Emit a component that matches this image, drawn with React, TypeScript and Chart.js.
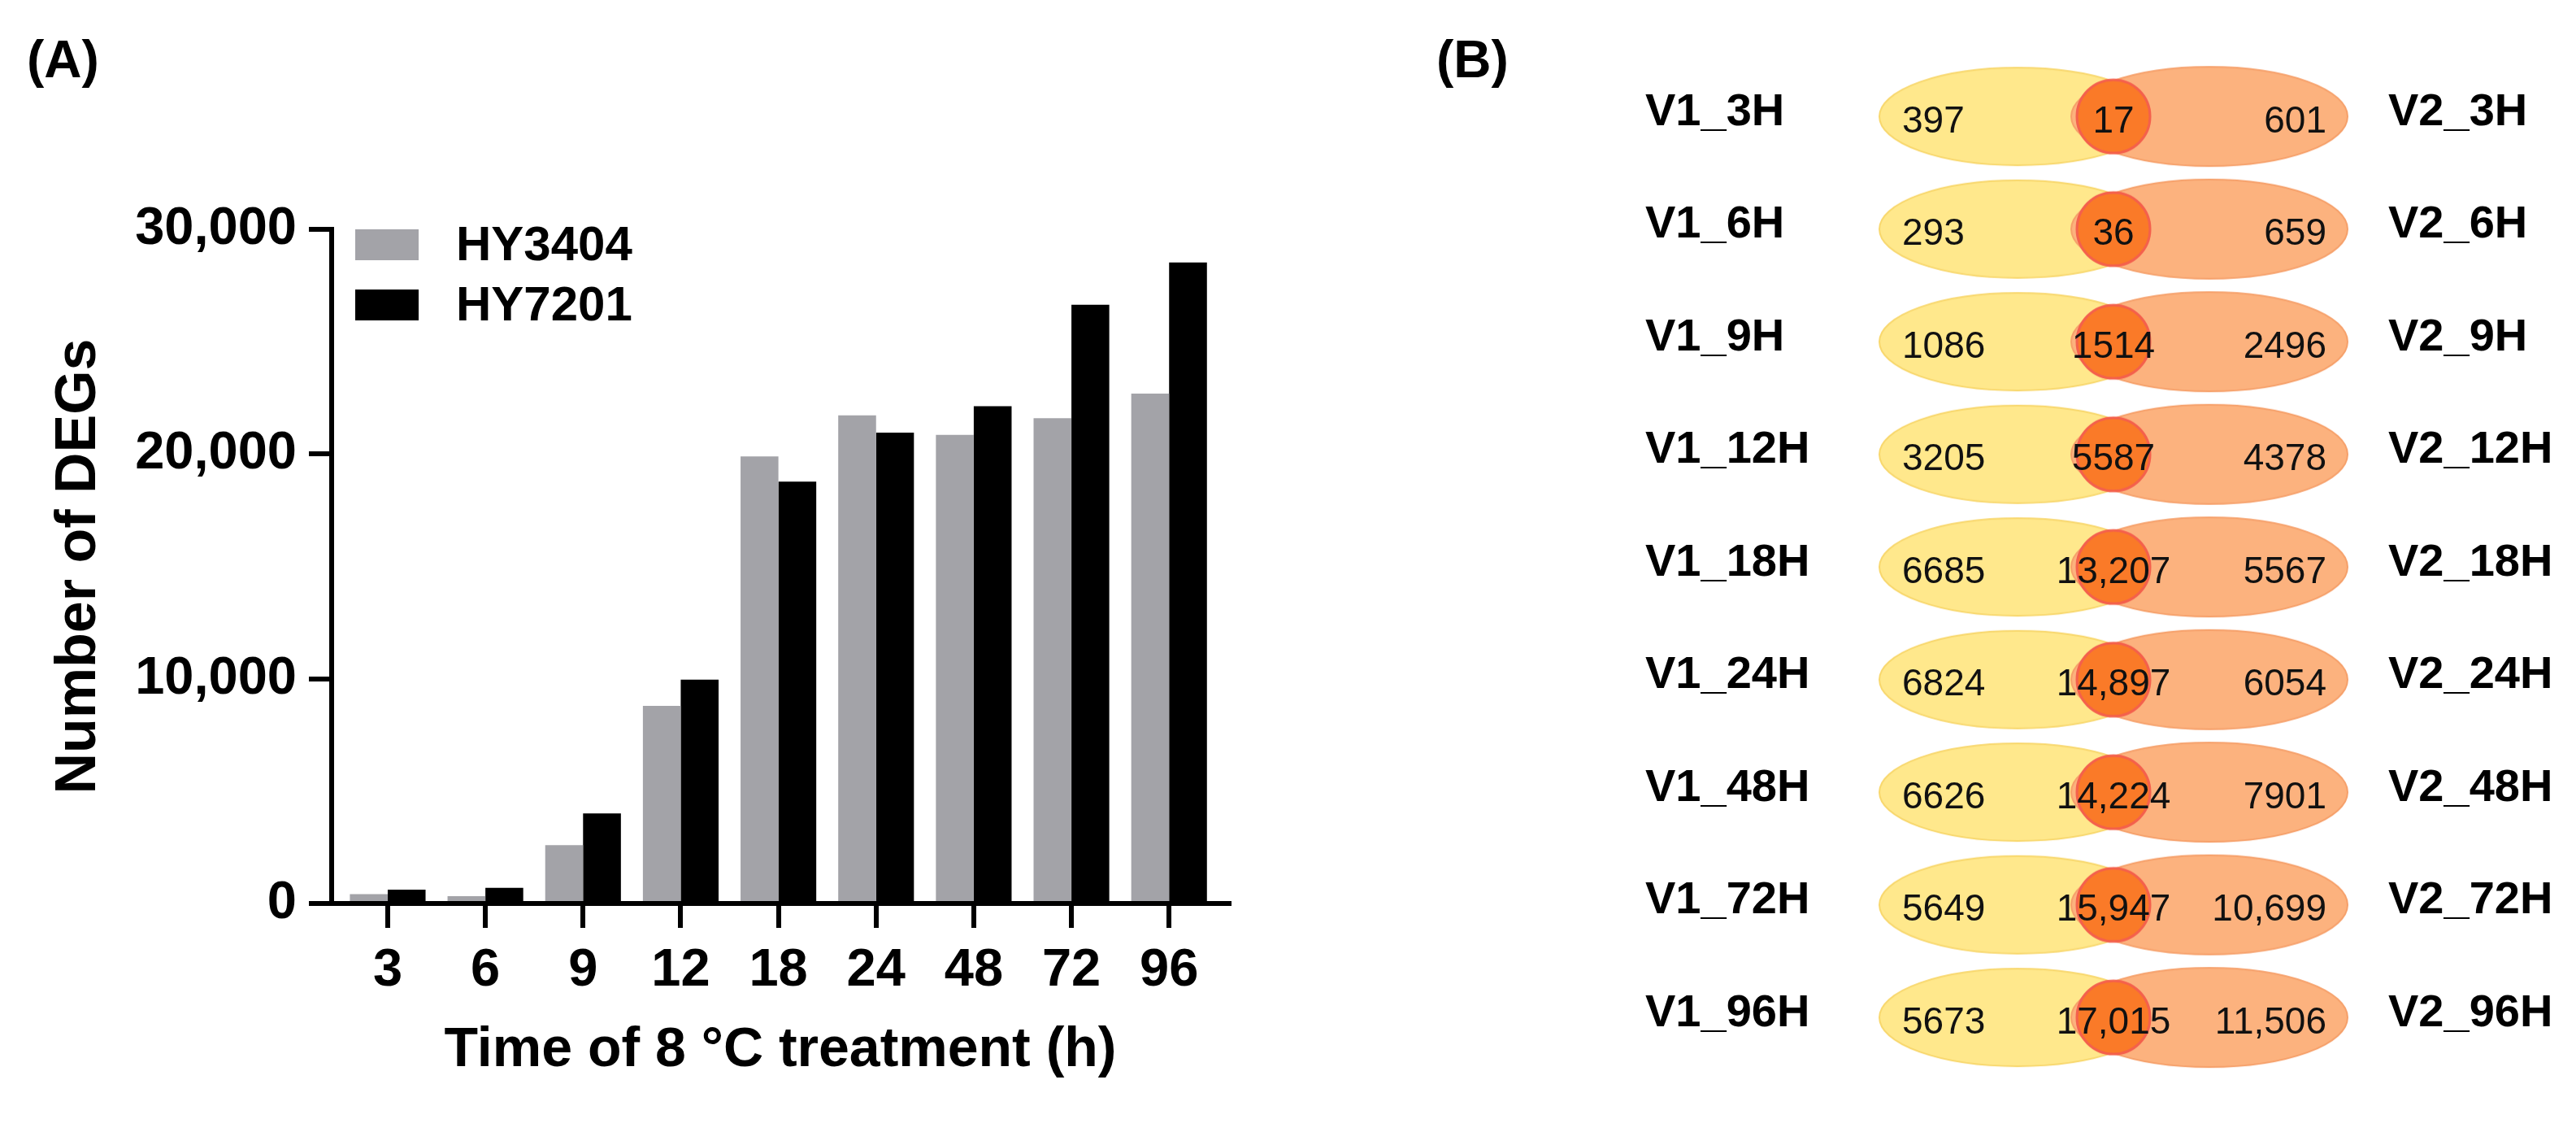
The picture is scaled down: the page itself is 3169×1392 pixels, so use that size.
import React, { useEffect, useRef } from "react";
import { Chart, registerables } from "chart.js";

Chart.register(...registerables);

const FONT = "'Liberation Sans', Arial, Helvetica, sans-serif";

// ---------- Panel A data ----------
const HOURS = ["3", "6", "9", "12", "18", "24", "48", "72", "96"];
const HY3404 = [414, 329, 2600, 8792, 19892, 21721, 20850, 21596, 22688];
const HY7201 = [618, 695, 4010, 9965, 18774, 20951, 22125, 26646, 28521];
const Y_TICKS = [0, 10000, 20000, 30000];

// ---------- Panel B data ----------
const V1_LABELS = ["V1_3H", "V1_6H", "V1_9H", "V1_12H", "V1_18H", "V1_24H", "V1_48H", "V1_72H", "V1_96H"];
const V2_LABELS = ["V2_3H", "V2_6H", "V2_9H", "V2_12H", "V2_18H", "V2_24H", "V2_48H", "V2_72H", "V2_96H"];
const V1_ONLY = [397, 293, 1086, 3205, 6685, 6824, 6626, 5649, 5673];
const SHARED = [17, 36, 1514, 5587, 13207, 14897, 14224, 15947, 17015];
const V2_ONLY = [601, 659, 2496, 4378, 5567, 6054, 7901, 10699, 11506];

// layout positions (x scale units) for the schematic Venn rows
const VENN_X = { v1: -118, shared: 0, v2: 118 };
const TEXT_X = { v1: -260, v2: 262 };

const fmt = (n: number) => (n >= 10000 ? n.toLocaleString("en-US") : String(n));

function makeEllipse(rx: number, ry: number, fill: string, stroke: string, lw: number) {
  const c = document.createElement("canvas");
  c.width = Math.ceil(2 * rx + 2 * lw);
  c.height = Math.ceil(2 * ry + 2 * lw);
  const g = c.getContext("2d")!;
  g.beginPath();
  g.ellipse(c.width / 2, c.height / 2, rx, ry, 0, 0, Math.PI * 2);
  g.fillStyle = fill;
  g.fill();
  g.lineWidth = lw;
  g.strokeStyle = stroke;
  g.stroke();
  return c;
}

const boxLegend = {
  id: "boxLegend",
  afterDraw(chart: any) {
    const { ctx, chartArea } = chart;
    ctx.save();
    chart.data.datasets.forEach((ds: any, i: number) => {
      const x = chartArea.left + 29;
      const y = chartArea.top + i * 74;
      ctx.fillStyle = ds.backgroundColor;
      ctx.fillRect(x, y, 78, 38);
      ctx.fillStyle = "#000";
      ctx.font = `bold 60px ${FONT}`;
      ctx.textAlign = "left";
      ctx.textBaseline = "middle";
      ctx.fillText(ds.label, x + 124, y + 21);
    });
    ctx.restore();
  },
};

const vennNumbers = {
  id: "vennNumbers",
  afterDatasetsDraw(chart: any) {
    const { ctx } = chart;
    const xs = chart.scales.x;
    const ys = chart.scales.y;
    ctx.save();
    ctx.fillStyle = "#111";
    ctx.font = `46px ${FONT}`;
    ctx.textBaseline = "middle";
    V1_LABELS.forEach((lab, i) => {
      const y = ys.getPixelForValue(i) + 7;
      ctx.textAlign = "left";
      ctx.fillText(fmt(V1_ONLY[i]), xs.getPixelForValue(TEXT_X.v1), y);
      ctx.textAlign = "center";
      ctx.fillText(fmt(SHARED[i]), xs.getPixelForValue(VENN_X.shared), y);
      ctx.textAlign = "right";
      ctx.fillText(fmt(V2_ONLY[i]), xs.getPixelForValue(TEXT_X.v2), y);
    });
    ctx.restore();
  },
};

export default function App() {
  const aRef = useRef<HTMLCanvasElement>(null);
  const bRef = useRef<HTMLCanvasElement>(null);

  useEffect(() => {
    const tickFont = { family: FONT, size: 65, weight: "bold" as const };
    const a = new Chart(aRef.current!, {
      type: "bar",
      data: {
        datasets: [
          {
            label: "HY3404",
            data: HY3404.map((v, i) => ({ x: i, y: v })),
            backgroundColor: "#A3A3A8",
            categoryPercentage: 0.775,
            barPercentage: 1,
          },
          {
            label: "HY7201",
            data: HY7201.map((v, i) => ({ x: i, y: v })),
            backgroundColor: "#000000",
            categoryPercentage: 0.775,
            barPercentage: 1,
          },
        ],
      },
      options: {
        animation: false,
        responsive: false,
        maintainAspectRatio: false,
        events: [],
        layout: { padding: { top: 282, right: 88, bottom: 0, left: 0 } },
        plugins: { legend: { display: false }, tooltip: { enabled: false }, title: { display: false } },
        scales: {
          x: {
            type: "linear",
            min: -0.574,
            max: 8.614,
            offset: false,
            afterBuildTicks: (s: any) => {
              s.ticks = HOURS.map((_, i) => ({ value: i }));
            },
            afterFit: (s: any) => {
              s.height = 281;
            },
            grid: {
              display: true,
              offset: false,
              drawOnChartArea: false,
              drawTicks: true,
              tickLength: 30,
              lineWidth: 6,
              color: "#000",
            },
            border: { display: true, width: 6, color: "#000" },
            ticks: {
              color: "#000",
              font: tickFont,
              padding: 14,
              maxRotation: 0,
              autoSkip: false,
              callback: (v: any) => HOURS[v] ?? "",
            },
            title: {
              display: true,
              text: "Time of 8 °C treatment (h)",
              color: "#000",
              font: { family: FONT, size: 68, weight: "bold" },
              padding: { top: 0, bottom: 59 },
            },
          },
          y: {
            type: "linear",
            min: 0,
            max: 30000,
            afterBuildTicks: (s: any) => {
              s.ticks = Y_TICKS.map((v) => ({ value: v }));
            },
            afterFit: (s: any) => {
              s.width = 408;
            },
            grid: { display: true, drawOnChartArea: false, drawTicks: true, tickLength: 28, lineWidth: 6, color: "#000" },
            border: { display: true, width: 6, color: "#000" },
            ticks: {
              color: "#000",
              font: tickFont,
              padding: 15,
              callback: (v: any) => Number(v).toLocaleString("en-US"),
            },
            title: {
              display: true,
              text: "Number of DEGs",
              color: "#000",
              font: { family: FONT, size: 70, weight: "bold" },
              padding: { top: 56, bottom: 0 },
            },
          },
        },
      },
      plugins: [boxLegend],
    });

    const yellow = makeEllipse(170, 60, "#FFE88C", "#F8D76C", 2);
    const orange = makeEllipse(170, 61, "#FCB27E", "#F6A06A", 2);
    const circle = makeEllipse(45, 45, "#FA7A28", "#F4604C", 3);
    const labFont = { family: FONT, size: 56, weight: "bold" as const };

    const b = new Chart(bRef.current!, {
      type: "scatter",
      data: {
        datasets: [
          {
            label: "V1 only",
            data: V1_LABELS.map((l) => ({ x: VENN_X.v1, y: l })),
            pointStyle: yellow as any,
            order: 3,
            clip: false as any,
          },
          {
            label: "V2 only",
            data: V1_LABELS.map((l) => ({ x: VENN_X.v2, y: l })),
            pointStyle: orange as any,
            order: 2,
            clip: false as any,
          },
          {
            label: "Shared",
            data: V1_LABELS.map((l) => ({ x: VENN_X.shared, y: l })),
            pointStyle: circle as any,
            order: 1,
            clip: false as any,
          },
        ],
      },
      options: {
        animation: false,
        responsive: false,
        maintainAspectRatio: false,
        events: [],
        layout: { padding: { top: 74, right: 0, bottom: 25, left: 424 } },
        plugins: { legend: { display: false }, tooltip: { enabled: false } },
        scales: {
          x: { type: "linear", min: -300, max: 300, display: false },
          y: {
            type: "category",
            labels: V1_LABELS,
            position: "left",
            offset: true,
            afterFit: (s: any) => {
              s.width = 276;
            },
            grid: { display: false, drawTicks: false },
            border: { display: false },
            ticks: { color: "#000", font: labFont, crossAlign: "far", padding: 0, labelOffset: -5, autoSkip: false },
          },
          y2: {
            type: "category",
            labels: V2_LABELS,
            position: "right",
            offset: true,
            afterFit: (s: any) => {
              s.width = 269;
            },
            grid: { display: false, drawTicks: false },
            border: { display: false },
            ticks: { color: "#000", font: labFont, crossAlign: "near", padding: 38, labelOffset: -5, autoSkip: false },
          },
        },
      },
      plugins: [vennNumbers],
    });

    return () => {
      a.destroy();
      b.destroy();
    };
  }, []);

  const panelLabel: React.CSSProperties = {
    position: "absolute",
    top: 41,
    font: `bold 64px ${FONT}`,
    lineHeight: "64px",
    color: "#000",
  };

  return (
    <div style={{ position: "relative", width: 3169, height: 1392, background: "#fff", overflow: "hidden" }}>
      <style>{"html,body{margin:0;padding:0;background:#fff}"}</style>
      <canvas
        ref={aRef}
        width={1600}
        height={1392}
        style={{ position: "absolute", left: 0, top: 0, width: 1600, height: 1392 }}
      />
      <canvas
        ref={bRef}
        width={1569}
        height={1392}
        style={{ position: "absolute", left: 1600, top: 0, width: 1569, height: 1392 }}
      />
      <div style={{ ...panelLabel, left: 33 }}>(A)</div>
      <div style={{ ...panelLabel, left: 1767 }}>(B)</div>
    </div>
  );
}
